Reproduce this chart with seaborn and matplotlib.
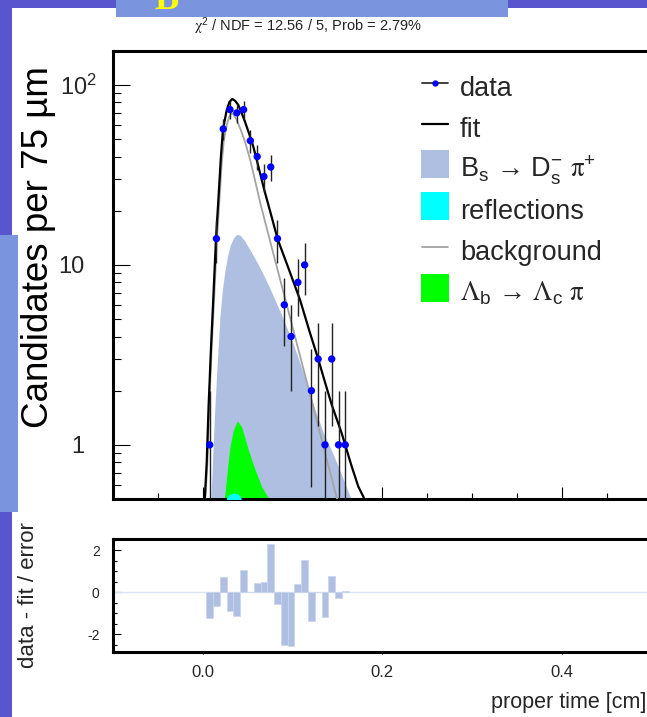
import numpy as np
import matplotlib
matplotlib.use("Agg")
import matplotlib.pyplot as plt
import seaborn as sns
from matplotlib.lines import Line2D
from matplotlib.patches import Rectangle
from matplotlib.ticker import (FixedLocator, FixedFormatter, MultipleLocator,
                               NullFormatter, NullLocator, LogLocator)

# ---- proper-time distribution, 75 um bins ----
bin_centers = [0.0080, 0.0155, 0.0231, 0.0306, 0.0382, 0.0458, 0.0533, 0.0609,
               0.0684, 0.0760, 0.0835, 0.0911, 0.0986, 0.1062, 0.1137, 0.1213,
               0.1288, 0.1364, 0.1439, 0.1515, 0.1590]
counts = [1, 14, 57, 73, 70, 73, 49, 40, 31, 35, 14, 6, 4, 8, 10, 2, 3, 1, 3, 1, 1]
pulls = [-1.21, -0.63, 0.75, -0.89, -1.13, 1.06, 0.02, 0.43, 0.49, 2.30, -0.57,
         -2.51, -2.56, 0.38, 1.54, -1.35, 0.03, -1.19, 0.78, -0.25, 0.05]

# ---- fit components ----
fit_t = [0.0015, 0.0025, 0.0047, 0.0068, 0.0095, 0.0120, 0.0150, 0.0182, 0.0205,
         0.0228, 0.0270, 0.0300, 0.0332, 0.0365, 0.0399, 0.0435, 0.0473, 0.0520,
         0.0566, 0.0627, 0.0688, 0.0760, 0.0837, 0.0960, 0.1086, 0.1190, 0.1290,
         0.1365, 0.1439, 0.1550, 0.1661, 0.1735, 0.1790, 0.1825]
fit_y = [0.45, 0.50, 0.80, 1.65, 3.5, 6.5, 13.9, 25.5, 40.0,
         56.7, 72.6, 80.5, 83.6, 81.5, 77.4, 70.0, 62.5, 53.5,
         45.4, 34.5, 26.1, 19.3, 13.9, 9.5, 6.4, 4.3, 2.98,
         2.22, 1.67, 1.16, 0.76, 0.586, 0.516, 0.47]

bkg_t = [0.0025, 0.0032, 0.0055, 0.0075, 0.0100, 0.0128, 0.0158, 0.0190, 0.0213,
         0.0237, 0.0270, 0.0300, 0.0320, 0.0345, 0.0380, 0.0425, 0.0473, 0.0530,
         0.0585, 0.0650, 0.0771, 0.0900, 0.1030, 0.1141, 0.1210, 0.1308, 0.1400,
         0.1494, 0.1510]
bkg_y = [0.45, 0.50, 0.80, 1.6, 3.3, 6.2, 13.0, 23.5, 36.0,
         49.0, 60.0, 67.0, 69.5, 68.5, 64.0, 56.5, 48.4, 38.5,
         29.5, 21.4, 12.5, 7.1, 4.0, 2.45, 1.81, 1.16, 0.77,
         0.51, 0.47]

bs_t = [0.0088, 0.0095, 0.0115, 0.0139, 0.0170, 0.0195, 0.0220, 0.0250, 0.0280,
        0.0310, 0.0345, 0.0381, 0.0420, 0.0470, 0.0530, 0.0600, 0.0670, 0.0740,
        0.0807, 0.0900, 0.0993, 0.1105, 0.1234, 0.1350, 0.1450, 0.1550, 0.1655,
        0.1670]
bs_y = [0.45, 0.50, 0.90, 1.67, 3.2, 5.2, 7.2, 9.3, 11.3,
        12.9, 14.1, 14.8, 14.6, 13.6, 12.1, 10.5, 9.0, 7.6,
        6.4, 5.0, 3.85, 2.67, 1.67, 1.15, 0.90, 0.68, 0.50,
        0.47]

lb_t = [0.0238, 0.0243, 0.0258, 0.0281, 0.0306, 0.0343, 0.0388, 0.0436, 0.0510,
        0.0585, 0.0659, 0.0733, 0.0745]
lb_y = [0.45, 0.50, 0.586, 0.76, 0.98, 1.21, 1.36, 1.26, 0.94,
        0.73, 0.586, 0.506, 0.47]

refl_t = [0.0258, 0.0270, 0.0300, 0.0345, 0.0390, 0.0425, 0.0445]
refl_y = [0.47, 0.51, 0.53, 0.54, 0.535, 0.515, 0.47]

# ---- axis labels and ticks ----
ytick_vals = [1, 10, 100]
ytick_labels = ["1", "10", r"10$^{\mathsf{2}}$"]
xtick_vals = [0.0, 0.2, 0.4]
xtick_labels = ["0.0", "0.2", "0.4"]
pull_ticks = [-2, 0, 2]
pull_labels = ["-2", "0", "2"]

legend_labels = [
    "data",
    "fit",
    "B$_{\\mathsf{s}}$ \u2192 D$_{\\mathsf{s}}^{\\mathsf{-}}$ $\\mathrm{\\pi}^{\\mathsf{+}}$",
    "reflections",
    "background",
    "$\\mathrm{\\Lambda}_{\\mathsf{b}}$ \u2192 $\\mathrm{\\Lambda}_{\\mathsf{c}}$ $\\mathrm{\\pi}$",
]
title_text = r"$\mathrm{\chi}^{\mathsf{2}}$ / NDF = 12.56 / 5, Prob = 2.79%"

# ---- style ----
sns.set_theme(style="ticks")
plt.rcParams["font.family"] = ["Liberation Sans", "DejaVu Sans"]
plt.rcParams["mathtext.fontset"] = "custom"
plt.rcParams["mathtext.rm"] = "STIXGeneral"
plt.rcParams["mathtext.sf"] = "Liberation Sans"
plt.rcParams["mathtext.it"] = "Liberation Sans:italic"
plt.rcParams["mathtext.bf"] = "Liberation Sans:bold"
plt.rcParams["mathtext.fallback"] = "stix"

BS_COLOR = "#aebfe2"
DARK_BLUE = "#5955cf"
LIGHT_BLUE = "#7a95de"

W, H = 647, 717
fig = plt.figure(figsize=(W / 100, H / 100), dpi=100)
fig.patch.set_facecolor("white")


def px_box(x0, y0, x1, y1):
    """Pixel box (origin top-left) -> figure-fraction [left, bottom, width, height]."""
    return [x0 / W, 1 - y1 / H, (x1 - x0) / W, (y1 - y0) / H]


# slide decorations
for (x0, y0, x1, y1, c) in [(0, 0, W, 8, DARK_BLUE), (0, 0, 12, H, DARK_BLUE),
                            (0, 235, 18, 512, LIGHT_BLUE), (116, 0, 508, 17, LIGHT_BLUE)]:
    l, b, w, h = px_box(x0, y0, x1, y1)
    fig.add_artist(Rectangle((l, b), w, h, transform=fig.transFigure,
                             facecolor=c, edgecolor="none", zorder=0))
fig.text(154 / W, 1 - 9 / H, "B", color="#ffff00", fontsize=26, fontweight="bold",
         family="Liberation Serif", ha="left", va="baseline")

ax = fig.add_axes(px_box(112.7, 51, 651.5, 499))
axr = fig.add_axes(px_box(112.7, 539, 651.5, 652))

# ---- main panel ----
ax.set_yscale("log")
ax.fill_between(bs_t, 0.3, bs_y, color=BS_COLOR, lw=0, zorder=1)
ax.fill_between(lb_t, 0.3, lb_y, color="#00ff00", lw=0, zorder=2)
ax.fill_between(refl_t, 0.3, refl_y, color="#00ffff", lw=0, zorder=3)
sns.lineplot(x=bkg_t, y=bkg_y, ax=ax, color="#a4a4a4", lw=1.3, sort=False,
             estimator=None, zorder=4)
sns.lineplot(x=fit_t, y=fit_y, ax=ax, color="black", lw=1.6, sort=False,
             estimator=None, zorder=5)

cnt = np.asarray(counts, dtype=float)
err = np.sqrt(cnt)
ax.vlines(bin_centers, np.clip(cnt - err, 1e-3, None), cnt + err,
          color="#222222", lw=1.0, zorder=6)
sns.scatterplot(x=bin_centers, y=counts, ax=ax, color="#0000ff", s=28,
                edgecolor="none", zorder=7)

ax.set_xlim(-0.1, 0.5)
ax.set_ylim(0.5, 154.5)
ax.yaxis.set_major_locator(FixedLocator(ytick_vals))
ax.yaxis.set_major_formatter(FixedFormatter(ytick_labels))
ax.yaxis.set_minor_locator(LogLocator(base=10, subs=np.arange(2, 10)))
ax.yaxis.set_minor_formatter(NullFormatter())
ax.xaxis.set_major_locator(MultipleLocator(0.2))
ax.xaxis.set_minor_locator(MultipleLocator(0.05))
ax.tick_params(axis="y", which="major", direction="in", length=12.2, width=0.8,
               labelsize=17, pad=20.5, left=True, right=False, color="black")
ax.tick_params(axis="y", which="minor", direction="in", length=6, width=0.8,
               left=True, right=False, color="black")
ax.tick_params(axis="x", which="major", direction="in", length=8.6, width=0.8,
               labelbottom=False, top=False, color="black")
ax.tick_params(axis="x", which="minor", direction="in", length=4.3, width=0.8,
               top=False, color="black")
for sp in ax.spines.values():
    sp.set_linewidth(2.2)
    sp.set_color("black")
ax.set_xlabel("")
ax.set_ylabel("Candidates per 75 µm", fontsize=26.5, color="black")
ax.yaxis.set_label_coords(-0.105, 0.5625)

handles = [
    Line2D([], [], color="#333333", lw=1.3, marker="o", ms=3.5,
           mfc="#0000ff", mec="#0000ff"),
    Line2D([], [], color="black", lw=1.6),
    Line2D([], [], ls="none", marker="s", ms=19.5, mfc=BS_COLOR, mew=0),
    Line2D([], [], ls="none", marker="s", ms=19.5, mfc="#00ffff", mew=0),
    Line2D([], [], color="#a4a4a4", lw=1.3),
    Line2D([], [], ls="none", marker="s", ms=19.5, mfc="#00ff00", mew=0),
]
ax.legend(handles, legend_labels, loc="upper left",
          bbox_to_anchor=(422 / W, 1 - 70 / H), bbox_transform=fig.transFigure,
          frameon=False, fontsize=19.5, handlelength=0.95, handleheight=1.55,
          handletextpad=0.45, labelspacing=0.25, borderpad=0, borderaxespad=0,
          numpoints=1)

fig.text(308 / W, 1 - 26 / H, title_text, fontsize=10.5, color="#222222",
         ha="center", va="center")

# ---- pull panel ----
axr.axhline(0, color="#dbe3f4", lw=1, zorder=1)
axr.bar(bin_centers, pulls, width=0.00755, color=BS_COLOR, edgecolor="#c9d5ee",
        lw=0.5, zorder=2)
axr.set_xlim(-0.1, 0.5)
axr.set_ylim(-2.84, 2.54)
axr.set_xticks(xtick_vals, xtick_labels)
axr.xaxis.set_minor_locator(NullLocator())
axr.set_yticks(pull_ticks, pull_labels)
axr.yaxis.set_minor_locator(MultipleLocator(0.5))
axr.tick_params(axis="x", which="major", direction="out", length=1.5, width=0.8,
                labelsize=12, pad=8, top=False, color="black")
axr.tick_params(axis="y", which="major", direction="in", length=5.8, width=0.8,
                labelsize=10, pad=9.4, right=False, color="black")
axr.tick_params(axis="y", which="minor", direction="in", length=2.9, width=0.8,
                right=False, color="black")
for sp in axr.spines.values():
    sp.set_linewidth(2.2)
    sp.set_color("black")
axr.set_ylabel("data - fit / error", fontsize=16)
axr.yaxis.set_label_coords(-0.136, 0.5)
axr.set_xlabel("proper time [cm]", fontsize=15.5, loc="right")
axr.xaxis.set_label_coords(0.990, -0.354)

# label of the 10^2 tick sits closer to the axis (exponent overhangs)
ax.yaxis.get_major_ticks()[2].set_pad(11.5)

fig.savefig("out.png", dpi=100)
